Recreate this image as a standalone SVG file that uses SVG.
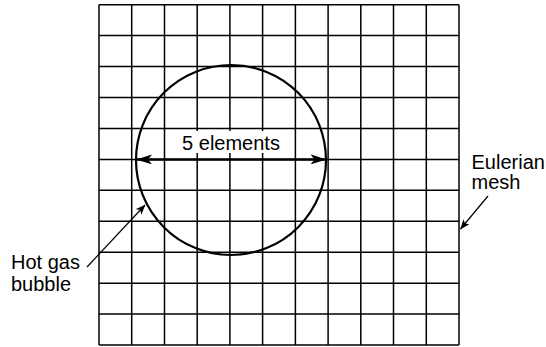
<svg xmlns="http://www.w3.org/2000/svg" width="546" height="347" viewBox="0 0 546 347">
<style>
.grid line{stroke:#000;stroke-width:1.5}
text{font-family:"Liberation Sans",Arial,sans-serif;font-size:20px;fill:#000}
</style>
<defs>
<marker id="big" viewBox="0 0 16 10" refX="15" refY="5" markerWidth="16" markerHeight="10" markerUnits="userSpaceOnUse" orient="auto-start-reverse">
<path d="M0,0 L16,5 L0,10 L4,5 Z" fill="#000"/>
</marker>
<marker id="small" viewBox="0 0 10 8" refX="9.5" refY="4" markerWidth="10" markerHeight="8" markerUnits="userSpaceOnUse" orient="auto">
<path d="M0,0 L10,4 L0,8 L2.5,4 Z" fill="#000"/>
</marker>
</defs>
<rect width="546" height="347" fill="#fff"/>
<g id="mesh" class="grid">
<line x1="99" y1="4.7" x2="99" y2="345"/>
<line x1="131.7" y1="4.7" x2="131.7" y2="345"/>
<line x1="164.5" y1="4.7" x2="164.5" y2="345"/>
<line x1="197.2" y1="4.7" x2="197.2" y2="345"/>
<line x1="229.9" y1="4.7" x2="229.9" y2="345"/>
<line x1="262.6" y1="4.7" x2="262.6" y2="345"/>
<line x1="295.4" y1="4.7" x2="295.4" y2="345"/>
<line x1="328.1" y1="4.7" x2="328.1" y2="345"/>
<line x1="360.8" y1="4.7" x2="360.8" y2="345"/>
<line x1="393.5" y1="4.7" x2="393.5" y2="345"/>
<line x1="426.3" y1="4.7" x2="426.3" y2="345"/>
<line x1="459" y1="4.7" x2="459" y2="345"/>
<line x1="99" y1="4.7" x2="459" y2="4.7"/>
<line x1="99" y1="35.6" x2="459" y2="35.6"/>
<line x1="99" y1="66.6" x2="459" y2="66.6"/>
<line x1="99" y1="97.5" x2="459" y2="97.5"/>
<line x1="99" y1="128.5" x2="459" y2="128.5"/>
<line x1="99" y1="159.4" x2="459" y2="159.4"/>
<line x1="99" y1="190.3" x2="459" y2="190.3"/>
<line x1="99" y1="221.3" x2="459" y2="221.3"/>
<line x1="99" y1="252.2" x2="459" y2="252.2"/>
<line x1="99" y1="283.2" x2="459" y2="283.2"/>
<line x1="99" y1="314.1" x2="459" y2="314.1"/>
<line x1="99" y1="345" x2="459" y2="345"/>
</g>
<g id="bubble">
<circle cx="231" cy="160" r="95" fill="none" stroke="#000" stroke-width="2.2"/>
</g>
<g id="dimension">
<rect x="176" y="131" width="110" height="22" fill="#fff"/>
<text x="231" y="150" text-anchor="middle">5 elements</text>
</g>
<g id="label-hot">
<rect x="8" y="252" width="80" height="44" fill="#fff"/>
<text x="11" y="269.3">Hot gas</text>
<text x="11" y="291">bubble</text>
</g>
<g id="label-mesh">
<text x="471.5" y="168.5">Eulerian</text>
<text x="471.5" y="189">mesh</text>
</g>
<g id="connectors" fill="none" stroke="#000">
<line x1="137" y1="159.4" x2="325.5" y2="159.4" stroke-width="2.5" marker-start="url(#big)" marker-end="url(#big)"/>
<line x1="87" y1="267" x2="145" y2="205" stroke-width="1.2" marker-end="url(#small)"/>
<line x1="488" y1="196" x2="460.5" y2="229" stroke-width="1.2" marker-end="url(#small)"/>
</g>
</svg>
